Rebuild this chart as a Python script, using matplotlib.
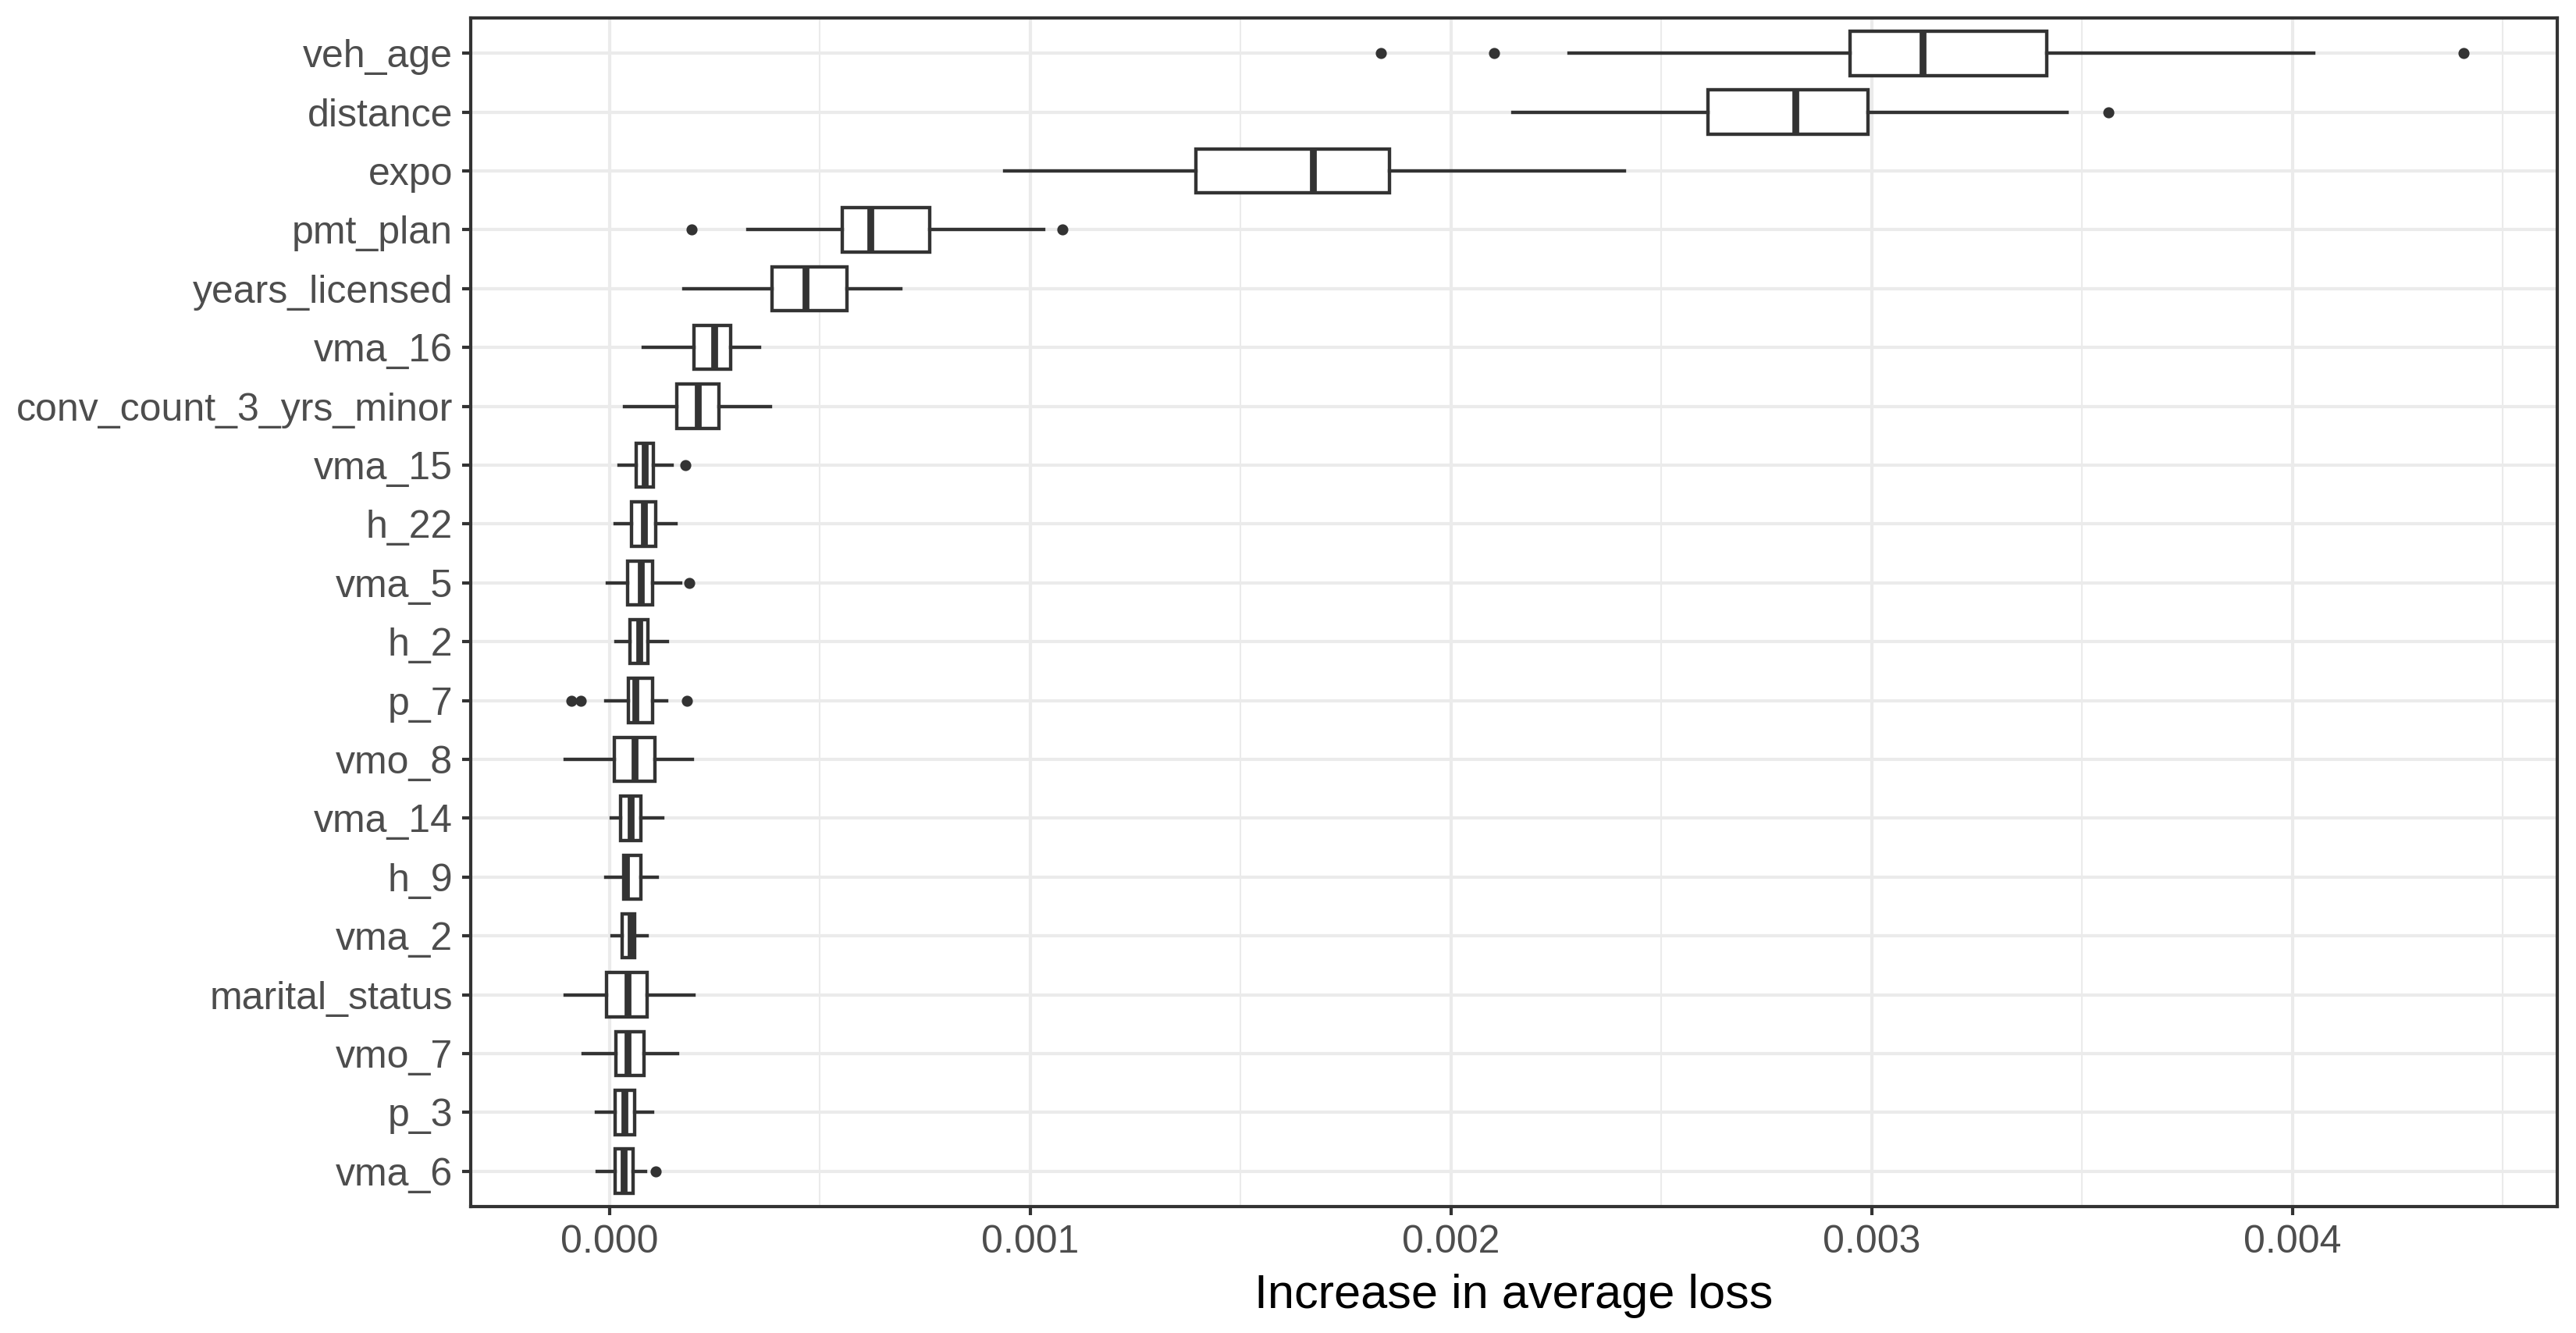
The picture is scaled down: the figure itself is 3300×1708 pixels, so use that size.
import numpy as np
import matplotlib
matplotlib.use("Agg")
import matplotlib.pyplot as plt

plt.rcParams['font.family'] = ['Liberation Sans', 'DejaVu Sans']

# feature names, top to bottom
features = ['veh_age', 'distance', 'expo', 'pmt_plan', 'years_licensed', 'vma_16',
            'conv_count_3_yrs_minor', 'vma_15', 'h_22', 'vma_5', 'h_2', 'p_7', 'vmo_8',
            'vma_14', 'h_9', 'vma_2', 'marital_status', 'vmo_7', 'p_3', 'vma_6']

# box stats (units: increase in average loss)
whis_lo = [0.002281, 0.002147, 0.000939, 0.000329, 0.000176, 0.0000802,
           0.0000347, 0.0000231, 0.0000132, -0.000005, 0.0000149, -0.0000083, -0.000105,
           0.0000041, -0.0000083, 0.0000058, -0.000105, -0.0000628, -0.0000314, -0.0000289]
q1 = [0.002949, 0.002610, 0.001393, 0.000553, 0.000387, 0.000200,
      0.000159, 0.0000628, 0.0000521, 0.0000430, 0.0000479, 0.0000455, 0.0000107,
      0.0000264, 0.0000339, 0.0000298, -0.0000066, 0.0000149, 0.0000124, 0.0000132]
median = [0.003121, 0.002818, 0.001671, 0.000620, 0.000466, 0.000249,
          0.000209, 0.0000835, 0.0000810, 0.0000744, 0.0000702, 0.0000620, 0.0000603,
          0.0000496, 0.0000400, 0.0000504, 0.0000421, 0.0000421, 0.0000364, 0.0000339]
q3 = [0.003415, 0.002990, 0.001853, 0.000760, 0.000565, 0.000288,
      0.000260, 0.000105, 0.000110, 0.000102, 0.0000909, 0.000102, 0.000107,
      0.0000736, 0.0000736, 0.0000603, 0.0000901, 0.0000826, 0.0000603, 0.0000562]
whis_hi = [0.004051, 0.003463, 0.002412, 0.001032, 0.000693, 0.000357,
           0.000382, 0.000149, 0.000158, 0.000169, 0.000137, 0.000135, 0.000196,
           0.000127, 0.000114, 0.0000893, 0.000200, 0.000162, 0.000103, 0.0000860]
outliers = [[0.001834, 0.002102, 0.004406], [0.003562], [], [0.000195, 0.001077], [], [],
            [], [0.000180], [], [0.000189], [], [-0.0000909, -0.0000686, 0.000183], [],
            [], [], [], [], [], [], [0.000109]]

xticks = [0.0, 0.001, 0.002, 0.003, 0.004]
xticklabels = ['0.000', '0.001', '0.002', '0.003', '0.004']

stats = []
for i in range(len(features)):
    stats.append({'label': features[i], 'whislo': whis_lo[i], 'q1': q1[i], 'med': median[i],
                  'q3': q3[i], 'whishi': whis_hi[i], 'fliers': outliers[i]})

n = len(features)
positions = np.arange(n, 0, -1)

fig = plt.figure(figsize=(11, 1708 / 300), dpi=300)
ax = fig.add_axes([603 / 3300, 1 - 1546 / 1708, (3276 - 603) / 3300, (1546 - 23) / 1708])

line_col = '#333333'
ax.bxp(stats, positions=positions, vert=False, widths=0.75, showcaps=False,
       patch_artist=True,
       boxprops=dict(facecolor='white', edgecolor=line_col, linewidth=1.05),
       whiskerprops=dict(color=line_col, linewidth=1.05),
       medianprops=dict(color=line_col, linewidth=2.1, solid_capstyle='butt'),
       flierprops=dict(marker='o', markersize=2.4, markerfacecolor=line_col,
                       markeredgecolor=line_col, linestyle='none'),
       zorder=3)

ax.set_xlim(-0.00033, 0.004629)
ax.set_ylim(0.4, n + 0.6)
ax.set_xticks(xticks)
ax.set_xticklabels(xticklabels)
ax.set_xticks([0.0005, 0.0015, 0.0025, 0.0035, 0.0045], minor=True)
ax.set_yticks(positions)
ax.set_yticklabels(features)

ax.grid(True, which='major', color='#EBEBEB', linewidth=1.0, zorder=0)
ax.grid(True, which='minor', axis='x', color='#EBEBEB', linewidth=0.5, zorder=0)
ax.set_axisbelow(True)

ax.tick_params(axis='both', which='major', length=2.7, width=1.0, color=line_col,
               labelsize=12, labelcolor='#4D4D4D', pad=2.8)
ax.tick_params(axis='x', which='minor', length=0)
for s in ax.spines.values():
    s.set_color(line_col)
    s.set_linewidth(1.0)

ax.set_xlabel('Increase in average loss', fontsize=14.7, color='black', labelpad=4)

fig.savefig('out.png', dpi=300, facecolor='white')
